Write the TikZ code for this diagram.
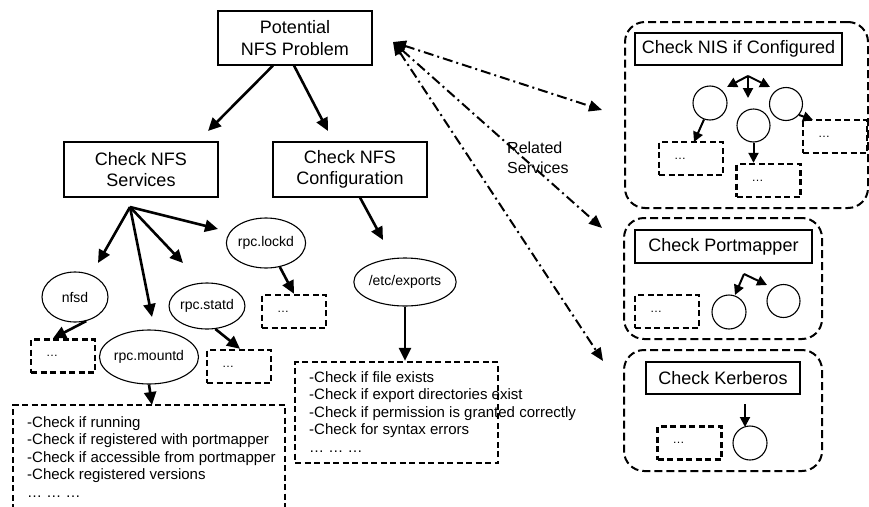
\documentclass[tikz,border=0pt]{standalone}
\usepackage{fontspec}
\setmainfont{Liberation Sans}
\usetikzlibrary{shapes.geometric,arrows.meta,calc}
\begin{document}
\begin{tikzpicture}[x=1pt,y=-1pt,
  plainbox/.style={draw,line width=1.1pt,inner sep=0pt,align=center,font=\fontsize{18}{21.5}\selectfont},
  ell/.style={draw,ellipse,line width=1.1pt,inner sep=0pt,font=\fontsize{14}{16}\selectfont},
  circ/.style={draw,circle,line width=1.1pt,inner sep=0pt,minimum size=34pt},
  dbox/.style={draw,line width=2.4pt,dash pattern=on 6pt off 3.5pt,inner ysep=0pt,inner xsep=15pt,
    minimum height=33pt,text width=34pt,align=left,font=\fontsize{12}{14}\selectfont},
  dline/.style={line width=2.4pt,dash pattern=on 6pt off 3.5pt},
  listtext/.style={inner sep=0pt,align=left,font=\fontsize{15}{17.6}\selectfont},
  group/.style={draw,line width=2pt,dash pattern=on 8pt off 4pt,rounded corners=20pt,inner sep=0pt},
  arr/.style={line width=2.6pt,-{Triangle[length=13pt,width=12pt]}},
  sarr/.style={line width=2pt,-{Triangle[length=10pt,width=10pt]}},
  ddarr/.style={line width=2pt,dash pattern=on 10pt off 4pt on 2pt off 4pt,
    {Triangle[length=13pt,width=11pt]}-{Triangle[length=13pt,width=11pt]}}
]
\useasboundingbox (0,0) rectangle (869,506);
\fill[white] (0,0) rectangle (869,506);

% main boxes
\node[plainbox,minimum width=154pt,minimum height=54pt] (pot) at (295,38) {Potential\\NFS Problem};
\node[plainbox,minimum width=154pt,minimum height=55pt] (serv) at (141,169.5) {Check NFS\\Services};
\node[plainbox,minimum width=154pt,minimum height=55pt] (conf) at (350,169.5) {Check NFS\\Configuration};

% ellipses
\node[ell,minimum width=66pt,minimum height=50pt] (nfsd) at (75,297) {nfsd};
\node[ell,minimum width=80pt,minimum height=54pt] (mountd) at (149,357) {rpc.mountd};
\node[ell,minimum width=66pt,minimum height=46pt] (statd) at (207,306) {rpc.statd};
\node[ell,minimum width=76pt,minimum height=50pt] (lockd) at (266,243) {rpc.lockd};
\node[ell,minimum width=88pt,minimum height=48pt] (exports) at (405,282) {/etc/exports};

% small dashed boxes
\node[dbox] (nfsdbox) at (63,356) {\ldots};
\node[dbox] (statdbox) at (239,366.5) {\ldots};
\node[dbox] (lockdbox) at (294,311.5) {\ldots};

% mountd list (open at the bottom)
\draw[dline] (13,510) |- (285,405) -- (285,510);
\node[listtext,anchor=north west] (mlist) at (27,416) {-Check if running\\-Check if registered with portmapper\\-Check if accessible from portmapper\\-Check registered versions\\\ldots\ \ldots\ \ldots};

% exports list
\node[draw,dline,minimum width=203pt,minimum height=101pt,inner sep=0pt] (ebox) at (396.5,412.5) {};
\node[listtext,anchor=north west] (elist) at (309,371) {-Check if file exists\\-Check if export directories exist\\-Check if permission is granted correctly\\-Check for syntax errors\\\ldots\ \ldots\ \ldots};

% arrows in NFS tree
\coordinate (t1) at (208,131);
\coordinate (t2) at (328,131);
\draw[arr] ([xshift=-22pt]pot.south) -- (t1);
\draw[arr] ([xshift=-1pt]pot.south) -- (t2);
\coordinate (fan) at (130,207);
\coordinate (f1) at (98,263);
\coordinate (f2) at (152,317);
\coordinate (f3) at (183,263);
\coordinate (f4) at (218,229);
\draw[arr] (fan) -- (f1);
\draw[arr] (fan) -- (f2);
\draw[arr] (fan) -- (f3);
\draw[arr] (fan) -- (f4);
\coordinate (c1) at (383,240);
\draw[arr] ([xshift=10pt]conf.south) -- (c1);
\draw[arr] (exports.south) -- (ebox.north -| exports.south);
\draw[arr] (mountd.south) -- (152,405);
\draw[arr] (nfsd.-65) -- (nfsdbox.north -| 53,0);
\draw[arr] (statd.-70) -- (statdbox.north -| 240,0);
\draw[arr] (lockd.-60) -- (lockdbox.north);

% NIS group
\node[group,minimum width=243pt,minimum height=186pt] (nisgrp) at (746.5,115) {};
\node[plainbox,minimum width=207pt,minimum height=32pt] (nis) at (738.5,49) {Check NIS if Configured};
\node[circ] (nc1) at (710,103) {};
\node[circ,minimum size=33pt] (nc2) at (753.5,125.5) {};
\node[circ,minimum size=33pt] (nc3) at (786,104) {};
\node[dbox] (nb1) at (691,158.5) {\ldots};
\node[dbox] (nb2) at (768.5,180.5) {\ldots};
\node[dbox] (nb3) at (835,136.5) {\ldots};
\coordinate (nf) at (748,76);
\coordinate (nf1) at (727,87);
\coordinate (nf2) at (748,98);
\coordinate (nf3) at (770,87);
\draw[sarr] (nf) -- (nf1);
\draw[sarr] (nf) -- (nf2);
\draw[sarr] (nf) -- (nf3);
\draw[sarr] (nc1.-110) -- (694,142);
\draw[sarr] (nc2.south) -- (nb2.north -| nc2.south);
\draw[sarr] (nc3.-40) -- (813,120);

% Portmapper group
\node[group,minimum width=198pt,minimum height=121pt] (pmgrp) at (723,278.5) {};
\node[plainbox,minimum width=177pt,minimum height=33pt] (pm) at (723.5,246.5) {Check Portmapper};
\node[dbox] (pmb) at (667,311.5) {\ldots};
\node[circ] (pc1) at (729,312) {};
\node[circ,minimum size=33pt] (pc2) at (783.5,301) {};
\coordinate (pf) at (744,274);
\draw[sarr] (pf) -- (735,295);
\draw[sarr] (pf) -- (767,285);

% Kerberos group
\node[group,minimum width=198pt,minimum height=121pt] (kgrp) at (723,410.5) {};
\node[plainbox,minimum width=154pt,minimum height=32pt] (kb) at (723,378) {Check Kerberos};
\node[dbox] (kbb) at (689.5,443) {\ldots};
\node[circ] (kc) at (750,443) {};
\draw[sarr] (745,404) -- (745,427);

% related services arrows
\coordinate (rs) at (393,42);
\coordinate (r1) at (602,110);
\coordinate (r2) at (602,228);
\coordinate (r3) at (603,361);
\draw[ddarr] (rs) -- (r1);
\draw[ddarr] (rs) -- (r2);
\draw[ddarr] (rs) -- (r3);
\node[anchor=west,inner sep=0pt,align=left,font=\fontsize{16}{20}\selectfont] (rel) at (507,158) {Related\\Services};
\end{tikzpicture}
\end{document}
